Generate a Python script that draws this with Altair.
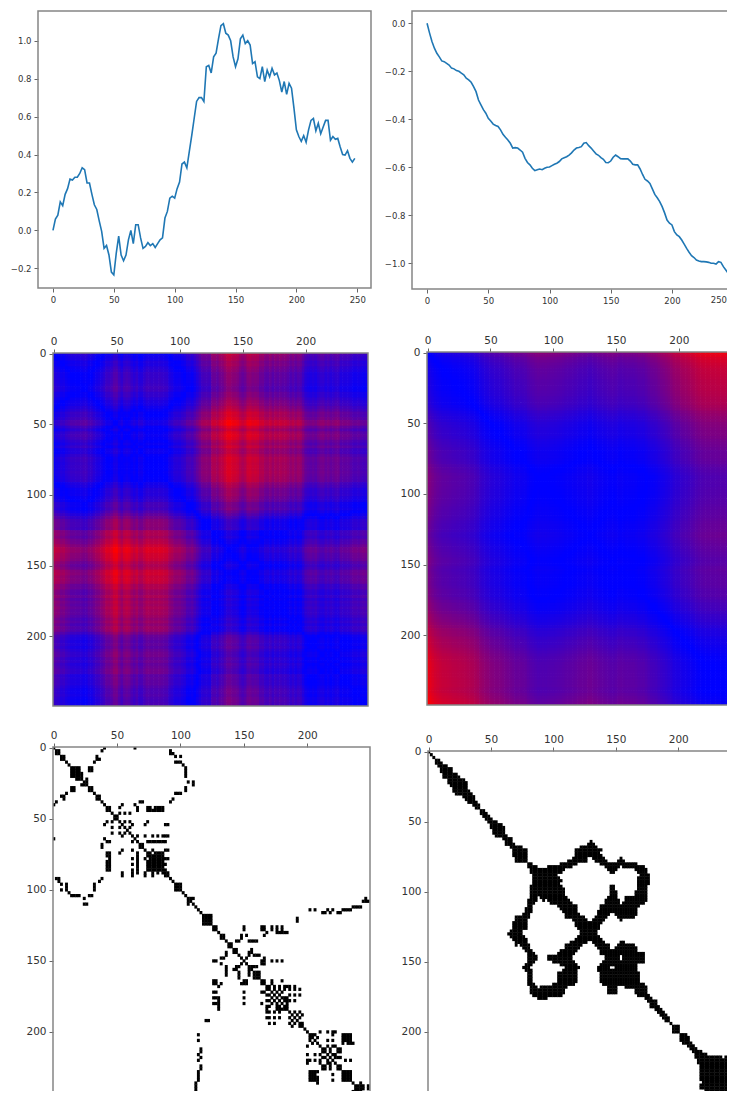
import numpy as np
import pandas as pd
import altair as alt

alt.data_transformers.disable_max_rows()

idx = list(range(0, 250, 2))
series_a = [0.0,0.06,0.08,0.15,0.13,0.19,0.22,0.27,0.265,0.28,0.28,0.30,0.33,0.32,0.25,0.25,0.19,0.135,0.11,0.05,
-0.005,-0.095,-0.08,-0.13,-0.22,-0.235,-0.12,-0.03,-0.13,-0.16,-0.13,-0.05,0.0,-0.07,0.03,0.03,-0.04,-0.095,-0.085,-0.065,
-0.08,-0.07,-0.09,-0.07,-0.05,-0.04,0.065,0.10,0.17,0.18,0.17,0.22,0.255,0.35,0.36,0.33,0.415,0.50,0.59,0.68,
0.70,0.70,0.68,0.863,0.87,0.83,0.915,0.935,1.01,1.08,1.09,1.04,1.03,1.00,0.915,0.863,0.905,1.01,1.03,0.985,
1.00,0.977,0.88,0.89,0.81,0.80,0.863,0.785,0.845,0.81,0.855,0.82,0.83,0.79,0.73,0.785,0.717,0.775,0.75,0.645,
0.53,0.495,0.47,0.50,0.465,0.53,0.58,0.59,0.525,0.565,0.51,0.545,0.58,0.58,0.475,0.495,0.48,0.485,0.44,0.40,
0.397,0.42,0.38,0.36,0.38]
series_b = [0.0,-0.04,-0.076,-0.104,-0.125,-0.14,-0.157,-0.16,-0.167,-0.174,-0.187,-0.19,-0.197,-0.20,-0.208,-0.215,-0.229,-0.236,-0.246,-0.264,
-0.285,-0.32,-0.34,-0.36,-0.375,-0.396,-0.407,-0.42,-0.426,-0.43,-0.444,-0.4625,-0.475,-0.486,-0.50,-0.52,-0.518,-0.52,-0.528,-0.5375,
-0.5625,-0.58,-0.59,-0.604,-0.614,-0.61,-0.607,-0.61,-0.604,-0.60,-0.5986,-0.593,-0.5875,-0.583,-0.576,-0.565,-0.56,-0.556,-0.549,-0.54,
-0.528,-0.52,-0.518,-0.514,-0.50,-0.497,-0.51,-0.52,-0.532,-0.544,-0.55,-0.56,-0.567,-0.58,-0.581,-0.574,-0.558,-0.549,-0.556,-0.564,
-0.565,-0.565,-0.565,-0.574,-0.5875,-0.59,-0.59,-0.607,-0.63,-0.65,-0.657,-0.667,-0.69,-0.713,-0.727,-0.743,-0.764,-0.79,-0.82,-0.833,
-0.84,-0.868,-0.882,-0.889,-0.903,-0.92,-0.9375,-0.954,-0.968,-0.976,-0.986,-0.99,-0.993,-0.993,-0.994,-0.996,-1.0,-1.0,-1.003,-0.993,
-0.996,-1.014,-1.028,-1.042,-1.056]
x_ticks_line = [0, 50, 100, 150, 200, 250]
x_ticks_line_right = [0, 50, 100, 150, 200]
x_ticks_img = [0, 50, 100, 150, 200]
y_ticks_a = [-0.2, 0.0, 0.2, 0.4, 0.6, 0.8, 1.0]
y_ticks_b = [0.0, -0.2, -0.4, -0.6, -0.8, -1.0]
clipped_tick_label = ["250"]
thr_a, thr_b = 0.028, 0.025
heat_power = 1.15

FONT = "DejaVu Sans"
TXT = "#333333"
FRAME = "#858585"
W, H = 719, 1083
M = 8
LINE_FS, IMG_FS = 8.5, 10.5


def axis(ticks, orient, offset, size, fmt="d"):
    return alt.Axis(values=ticks, orient=orient, offset=offset, domain=False, grid=False, title=None,
                    format=fmt, labelFont=FONT, labelFontSize=size, labelColor=TXT, tickColor="#666666",
                    tickSize=4, labelPadding=3, labelOverlap=False, labelFlush=False)


def frame(box):
    x0, x1, y0, y1 = box
    return alt.Chart(pd.DataFrame({"a": [0]})).mark_rect(fill=None, stroke=FRAME, strokeWidth=1.5).encode(
        x=alt.value(x0 - M), x2=alt.value(x1 - M), y=alt.value(y0 - M), y2=alt.value(y1 - M))


def line_panel(vals, xdom, ydom, xticks, yticks, box):
    x0, x1, y0, y1 = box
    df = pd.DataFrame({"i": idx, "v": vals})
    return alt.Chart(df).mark_line(color="#1f77b4", strokeWidth=1.6).encode(
        x=alt.X("i:Q", scale=alt.Scale(domain=xdom, range=[x0 - M, x1 - M], nice=False, zero=False),
                axis=axis(xticks, "bottom", -(H - (y1 - M)), LINE_FS)),
        y=alt.Y("v:Q", scale=alt.Scale(domain=ydom, range=[y1 - M, y0 - M], nice=False, zero=False),
                axis=axis(yticks, "left", -(x0 - M), LINE_FS, ".1f")))


def matrix(vals):
    v = np.array(vals)
    return np.abs(v[:, None] - v[None, :])


def cells(m, keep=None, over=1.5):
    rows = []
    n = len(idx)
    for r in range(n):
        for c in range(n):
            if keep is not None and not keep[r, c]:
                continue
            rows.append((max(idx[c] - 1, -0.5), min(idx[c] + over, 249.5),
                         max(idx[r] - 1, -0.5), min(idx[r] + over, 249.5), round(float(m[r, c]), 4)))
    return pd.DataFrame(rows, columns=["x", "x2", "y", "y2", "d"])


def img_panel(df, box, heat):
    x0, x1, y0, y1 = box
    enc = dict(
        x=alt.X("x:Q", scale=alt.Scale(domain=[-0.5, 249.5], range=[x0 - M, x1 - M], nice=False, zero=False),
                axis=axis(x_ticks_img, "top", -(y0 - M), IMG_FS)),
        x2="x2:Q",
        y=alt.Y("y:Q", scale=alt.Scale(domain=[-0.5, 249.5], range=[y0 - M, y1 - M], nice=False, zero=False),
                axis=axis(x_ticks_img, "left", -(x0 - M), IMG_FS)),
        y2="y2:Q")
    if heat:
        enc["color"] = alt.Color("d:Q", legend=None,
                                 scale=alt.Scale(domain=[0, float(df["d"].max())], range=["#0000ff", "#ff0000"],
                                                 interpolate="rgb"))
        mark = alt.Chart(df).mark_rect()
    else:
        mark = alt.Chart(df).mark_rect(color="#000000")
    return mark.encode(**enc)


ma, mb = matrix(series_a), matrix(series_b)

boxes = [(38, 371, 11, 288), (412, 747, 11, 289), (53, 368, 353, 706),
         (427, 741, 352, 705), (53, 370, 747, 1102), (428, 740, 751, 1101)]

edge_label = alt.Chart(pd.DataFrame({"t": clipped_tick_label})).mark_text(
    align="right", baseline="top", font=FONT, fontSize=LINE_FS, color=TXT
).encode(x=alt.value(W), y=alt.value(boxes[1][3] - M + 7), text="t:N")

layers = [
    line_panel(series_a, [-12.3, 261.3], [-0.304, 1.157], x_ticks_line, y_ticks_a, boxes[0]),
    line_panel(series_b, [-12.3, 261.3], [-1.107, 0.051], x_ticks_line_right, y_ticks_b, boxes[1]),
    img_panel(cells(ma ** heat_power), boxes[2], True),
    img_panel(cells(mb ** heat_power), boxes[3], True),
    img_panel(cells(ma, ma < thr_a, 1.3), boxes[4], False),
    img_panel(cells(mb, mb < thr_b, 1.3), boxes[5], False),
    edge_label,
] + [frame(b) for b in boxes]

chart = alt.layer(*layers).resolve_scale(
    x="independent", y="independent", color="independent"
).properties(width=W, height=H, padding=0, autosize=alt.AutoSizeParams(type="none")).configure_view(stroke=None)

chart.save("out.html", embed_options={"renderer": "svg", "actions": False})
